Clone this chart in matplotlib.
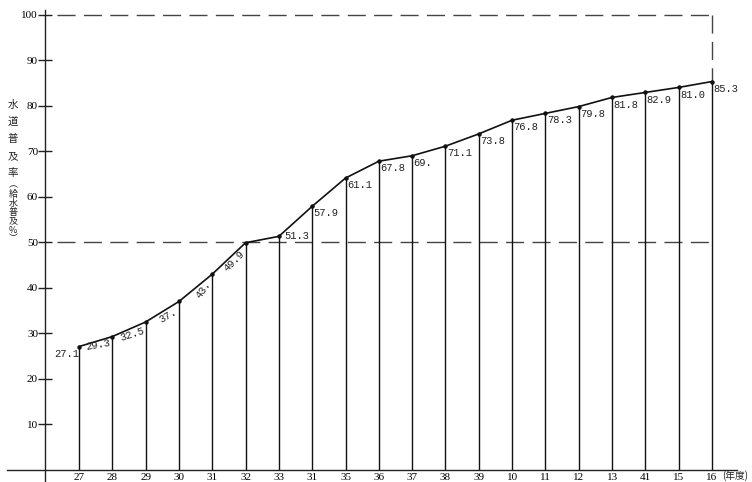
import matplotlib
matplotlib.use("Agg")
import matplotlib.pyplot as plt

# ---- data ----
years = ["27", "28", "29", "30", "31", "32", "33", "31", "35", "36",
         "37", "38", "39", "10", "11", "12", "13", "41", "15", "16"]
rates = [27.1, 29.3, 32.5, 37.0, 43.0, 49.9, 51.3, 57.9, 64.1, 67.8,
         69.0, 71.1, 73.8, 76.8, 78.3, 79.8, 81.8, 82.9, 84.0, 85.3]
value_labels = ["27.1", "29.3", "32.5", "37.", "43.", "49.9", "51.3", "57.9", "61.1", "67.8",
                "69.", "71.1", "73.8", "76.8", "78.3", "79.8", "81.8", "82.9", "81.0", "85.3"]
yticks = [10, 20, 30, 40, 50, 60, 70, 80, 90, 100]
ref_levels = [50, 100]
ylabel_main = "水道普及率"
ylabel_sub = "︵給水普及%︶"
unit_label = "(年度)"

W, H = 752, 482
fig = plt.figure(figsize=(W / 100, H / 100), dpi=100)
ax = fig.add_axes([45 / W, (H - 470) / H, (737 - 45) / W, (470 - 10) / H])
y0, y1 = 0.0, 101.0
ax.set_xlim(-1.02, 19.75)
ax.set_ylim(y0, y1)
x = list(range(len(years)))

for s in ax.spines.values():
    s.set_visible(False)

# axes lines extending like the original
ax.plot([0, 0], [-0.03, 1.0], transform=ax.transAxes, color="#222", lw=1.0, clip_on=False)
ax.plot([-0.055, 1.0], [0, 0], transform=ax.transAxes, color="#222", lw=1.0, clip_on=False)

# reference dashed lines
dash = dict(color="#444", lw=1.0, linestyle=(0, (13, 6)))
ax.plot([-0.65, x[-1]], [ref_levels[1], ref_levels[1]], **dash)
ax.plot([-0.65, x[-1]], [ref_levels[0], ref_levels[0]], **dash)
ax.plot([x[-1], x[-1]], [ref_levels[1], rates[-1]], **dash)

# vertical drop lines
ax.vlines(x, y0, rates, color="#111", lw=1.0)
# curve
ax.plot(x, rates, color="#111", lw=1.2, marker="o", ms=2.2)

lab_font = dict(family="Liberation Mono", fontsize=7.5, color="#222")
# labels for the early (rotated, left) part: offsets in points, rotation
left_cfg = {0: (-9, -5, 0), 1: (-10, -6, 10), 2: (-9.5, -8.5, 18), 3: (-7.5, -10.5, 30),
            4: (-6.5, -11, 55), 5: (-8.5, -13, 45)}
for i, lab in enumerate(value_labels):
    if i in left_cfg:
        dx, dy, rot = left_cfg[i]
        ax.annotate(lab, (x[i], rates[i]), xytext=(dx, dy), textcoords="offset points",
                    ha="center", va="center", rotation=rot, **lab_font)
    elif i == 6:
        ax.annotate(lab, (x[i], rates[i]), xytext=(4, 0.5), textcoords="offset points",
                    ha="left", va="center", **lab_font)
    else:
        ax.annotate(lab, (x[i], rates[i]), xytext=(1, -1.5), textcoords="offset points",
                    ha="left", va="top", **lab_font)

ax.set_xticks(x)
ax.set_xticklabels(years, family="Liberation Serif", fontsize=8)
ax.tick_params(axis="x", length=0, pad=2.5)
ax.set_yticks(yticks)
ax.set_yticklabels([str(v) for v in yticks], family="Liberation Serif", fontsize=8)
ax.tick_params(axis="y", direction="inout", length=10, width=1.0, pad=0, color="#222")

fig.text(722 / W, 1 - 476 / H, unit_label, family=["Noto Sans CJK JP", "DejaVu Sans"], fontsize=7,
         ha="left", va="center", color="#222")

# vertical y-axis label
ys = 105
for ch in ylabel_main:
    fig.text(13 / W, 1 - ys / H, ch, family="Noto Sans CJK JP", fontsize=7.5,
             ha="center", va="center", color="#222")
    ys += 17
ys -= 5
for ch in ylabel_sub:
    fig.text(13 / W, 1 - ys / H, ch, family=["Noto Sans CJK JP", "DejaVu Sans"], fontsize=6.5,
             ha="center", va="center", color="#222")
    ys += 9

fig.savefig("out.png", dpi=100, facecolor="white")
